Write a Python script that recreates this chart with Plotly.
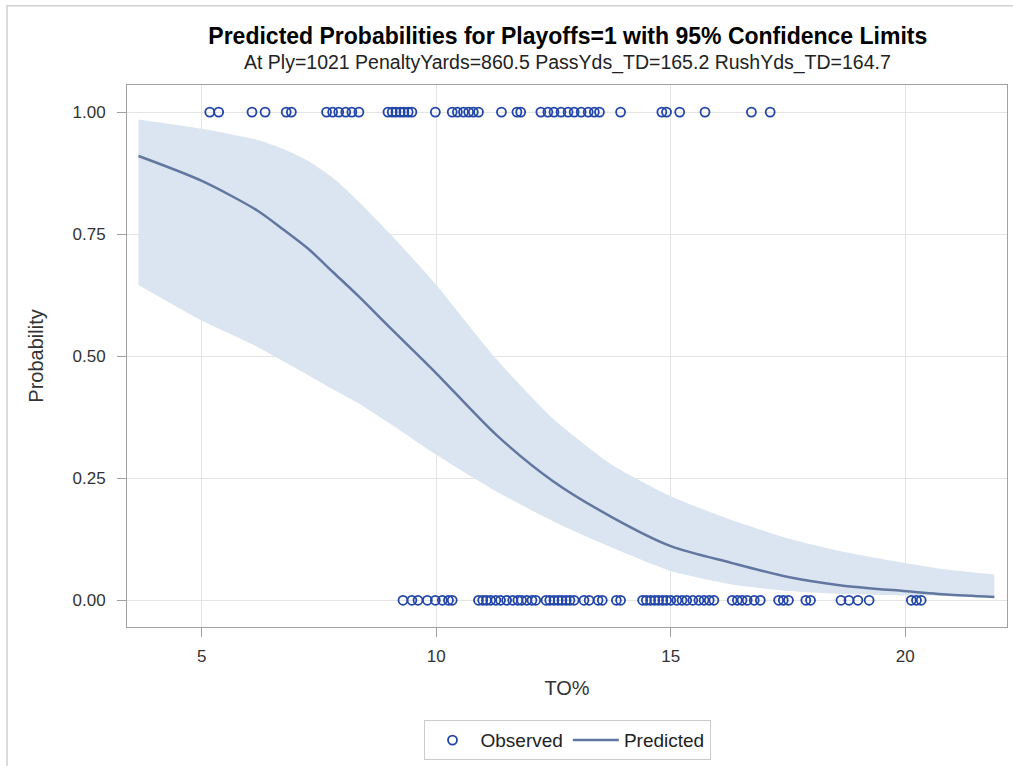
import plotly.graph_objects as go

# Observed outcomes: TO% values for teams that made the playoffs (1) and did not (0)
to_pct_playoffs = [5.17, 5.36, 6.07, 6.35, 6.80, 6.91, 7.66, 7.79, 7.92, 8.07, 8.20, 8.35,
                   8.97, 9.06, 9.14, 9.23, 9.31, 9.40, 9.48, 9.98, 10.34, 10.45, 10.58,
                   10.69, 10.79, 10.90, 11.39, 11.72, 11.80, 12.23, 12.38, 12.51, 12.66,
                   12.81, 12.94, 13.09, 13.24, 13.37, 13.48, 13.93, 14.81, 14.91, 15.19,
                   15.73, 16.72, 17.12]
to_pct_no_playoffs = [9.29, 9.48, 9.61, 9.81, 9.98, 10.13, 10.26, 10.34, 10.90, 10.99, 11.07,
                      11.16, 11.27, 11.37, 11.50, 11.63, 11.74, 11.82, 11.93, 12.04, 12.12,
                      12.34, 12.42, 12.51, 12.60, 12.68, 12.77, 12.85, 12.94, 13.15, 13.26,
                      13.45, 13.54, 13.84, 13.93, 14.40, 14.48, 14.57, 14.66, 14.74, 14.83,
                      14.91, 15.00, 15.13, 15.24, 15.34, 15.47, 15.60, 15.71, 15.82, 15.92,
                      16.31, 16.42, 16.52, 16.63, 16.78, 16.91, 17.30, 17.40, 17.51, 17.88,
                      17.98, 18.63, 18.80, 18.99, 19.23, 20.13, 20.24, 20.34]

# Predicted probability curve with 95% confidence limits
curve_x = [3.65, 5.0, 6.19, 6.73, 7.27, 7.8, 8.33, 9.04, 10.0, 11.28, 12.49, 13.77, 15.0,
           16.28, 17.53, 18.6, 19.96, 20.87, 21.9]
pred = [0.910, 0.859, 0.798, 0.760, 0.720, 0.672, 0.624, 0.556, 0.465, 0.339, 0.244,
        0.169, 0.111, 0.077, 0.047, 0.031, 0.019, 0.012, 0.007]
upper = [0.985, 0.966, 0.943, 0.925, 0.900, 0.865, 0.818, 0.748, 0.646, 0.494, 0.372,
         0.276, 0.213, 0.165, 0.126, 0.101, 0.077, 0.063, 0.053]
lower = [0.646, 0.573, 0.519, 0.490, 0.461, 0.432, 0.404, 0.360, 0.298, 0.223, 0.162,
         0.107, 0.060, 0.033, 0.019, 0.013, 0.010, 0.009, 0.008]

x_ticks = [5, 10, 15, 20]
y_ticks = [0.0, 0.25, 0.5, 0.75, 1.0]
y_tick_text = ["0.00", "0.25", "0.50", "0.75", "1.00"]

band_color = "rgb(219,228,241)"
line_color = "#62779F"
marker_color = "#2145A8"
axis_color = "#A0A0A0"
grid_color = "#E4E4E4"
text_color = "#333333"
font_family = "Liberation Sans, Arial, sans-serif"

fig = go.Figure()

# Confidence band: lower limit, then upper limit filled down to it
fig.add_trace(go.Scatter(x=curve_x, y=lower, mode="lines",
                         line=dict(width=0, shape="spline", smoothing=0.6),
                         showlegend=False, hoverinfo="skip"))
fig.add_trace(go.Scatter(x=curve_x, y=upper, mode="lines",
                         line=dict(width=0, shape="spline", smoothing=0.6),
                         fill="tonexty", fillcolor=band_color, showlegend=False,
                         hoverinfo="skip"))

fig.add_trace(go.Scatter(
    x=to_pct_playoffs + to_pct_no_playoffs,
    y=[1] * len(to_pct_playoffs) + [0] * len(to_pct_no_playoffs),
    mode="markers", name="Observed", legendrank=1,
    marker=dict(symbol="circle-open", size=9, color=marker_color,
                line=dict(width=1.8, color=marker_color)),
))
fig.add_trace(go.Scatter(x=curve_x, y=pred, mode="lines", name="Predicted", legendrank=2,
                         line=dict(color=line_color, width=2.5, shape="spline",
                                   smoothing=0.8)))

axis_common = dict(
    showline=True, mirror=True, linecolor=axis_color, linewidth=1,
    ticks="outside", ticklen=9, tickcolor=axis_color,
    showgrid=True, gridcolor=grid_color, gridwidth=1, zeroline=False,
    tickfont=dict(family=font_family, size=17, color=text_color),
)

fig.update_xaxes(range=[3.405, 22.17], tickvals=x_ticks, ticklabelstandoff=5,
                 title=dict(text="TO%", font=dict(family=font_family, size=20, color=text_color),
                            standoff=15),
                 **axis_common)
fig.update_yaxes(range=[-0.0547, 1.0555], tickvals=y_ticks, ticktext=y_tick_text,
                 ticklabelstandoff=8,
                 title=dict(text="Probability",
                            font=dict(family=font_family, size=20, color=text_color),
                            standoff=23),
                 **axis_common)

fig.update_layout(
    width=1013, height=766,
    margin=dict(l=127, r=6, t=85, b=137),
    paper_bgcolor="white", plot_bgcolor="white",
    font=dict(family=font_family, color=text_color),
    title=dict(text="<b>Predicted Probabilities for Playoffs=1 with 95% Confidence Limits</b>",
               x=0.5605, xanchor="center", y=1 - 36 / 766, yanchor="middle",
               font=dict(family=font_family, size=23, color="black")),
    legend=dict(orientation="h", x=0.5, xanchor="center", y=-0.172, yanchor="top",
                traceorder="normal", itemwidth=46,
                bordercolor="#CCCCCC", borderwidth=1,
                font=dict(family=font_family, size=19, color="#222222")),
    annotations=[dict(
        text="At Ply=1021 PenaltyYards=860.5 PassYds_TD=165.2 RushYds_TD=164.7",
        xref="paper", yref="paper", x=0.5, y=1 + (85.5 - 63) / 544,
        xanchor="center", yanchor="middle", showarrow=False,
        font=dict(family=font_family, size=19.5, color="#222222"),
    )],
    shapes=[dict(type="rect", xref="paper", yref="paper",
                 x0=(7 - 127) / 880, x1=1.2, y0=-0.6, y1=1 + (85.5 - 6) / 544,
                 line=dict(color="#D0D0D0", width=1.5), layer="below")],
)

fig.write_html("out.html")
